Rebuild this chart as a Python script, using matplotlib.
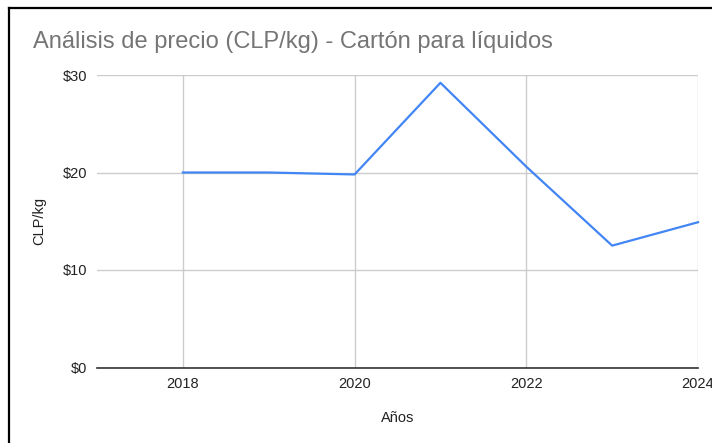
import matplotlib.pyplot as plt
from matplotlib.lines import Line2D
from matplotlib.ticker import FuncFormatter

# datos
years = [2018, 2019, 2020, 2021, 2022, 2023, 2024]
price = [20.0, 20.0, 19.8, 29.2, 20.6, 12.5, 14.9]

title = "Análisis de precio (CLP/kg) - Cartón para líquidos"
x_ticks = [2018, 2020, 2022, 2024]
y_ticks = [0, 10, 20, 30]

W, H = 712, 443
plt.rcParams['font.family'] = ['Liberation Sans', 'DejaVu Sans']
fig = plt.figure(figsize=(W / 100, H / 100), dpi=100)
ax = fig.add_axes([97 / W, 1 - 367.5 / H, (698 - 97) / W, (367.5 - 75) / H])

ax.plot(years, price, color='#4285F4', lw=1.6, zorder=3, clip_on=False)

ax.set_xlim(2017, 2024)
ax.set_ylim(0, 30)
ax.set_xticks(x_ticks)
ax.set_yticks(y_ticks)
ax.yaxis.set_major_formatter(FuncFormatter(lambda v, p: "${:d}".format(int(v))))
ax.grid(True, color='#cccccc', lw=1)
ax.set_axisbelow(True)
for s in ['top', 'right', 'left']:
    ax.spines[s].set_visible(False)
ax.spines['bottom'].set_color('#333333')
ax.spines['bottom'].set_linewidth(1.2)
ax.tick_params(axis='both', length=0, labelsize=10.5, labelcolor='#222222')
ax.tick_params(axis='x', pad=7)
ax.tick_params(axis='y', pad=7)

ax.set_xlabel("Años", fontsize=10.5, color='#222222', labelpad=14)
ax.set_ylabel("CLP/kg", fontsize=10.5, color='#222222', labelpad=12)

fig.text(33 / W, 1 - 42 / H, title, fontsize=17, color='#757575', va='center', ha='left')

# marco negro de la captura
fig.add_artist(Line2D([9 / W, 1], [1 - 8 / H, 1 - 8 / H], color='black', lw=1.6, transform=fig.transFigure))
fig.add_artist(Line2D([9 / W, 9 / W], [0, 1 - 8 / H], color='black', lw=1.6, transform=fig.transFigure))

fig.savefig('out.png', dpi=100)
